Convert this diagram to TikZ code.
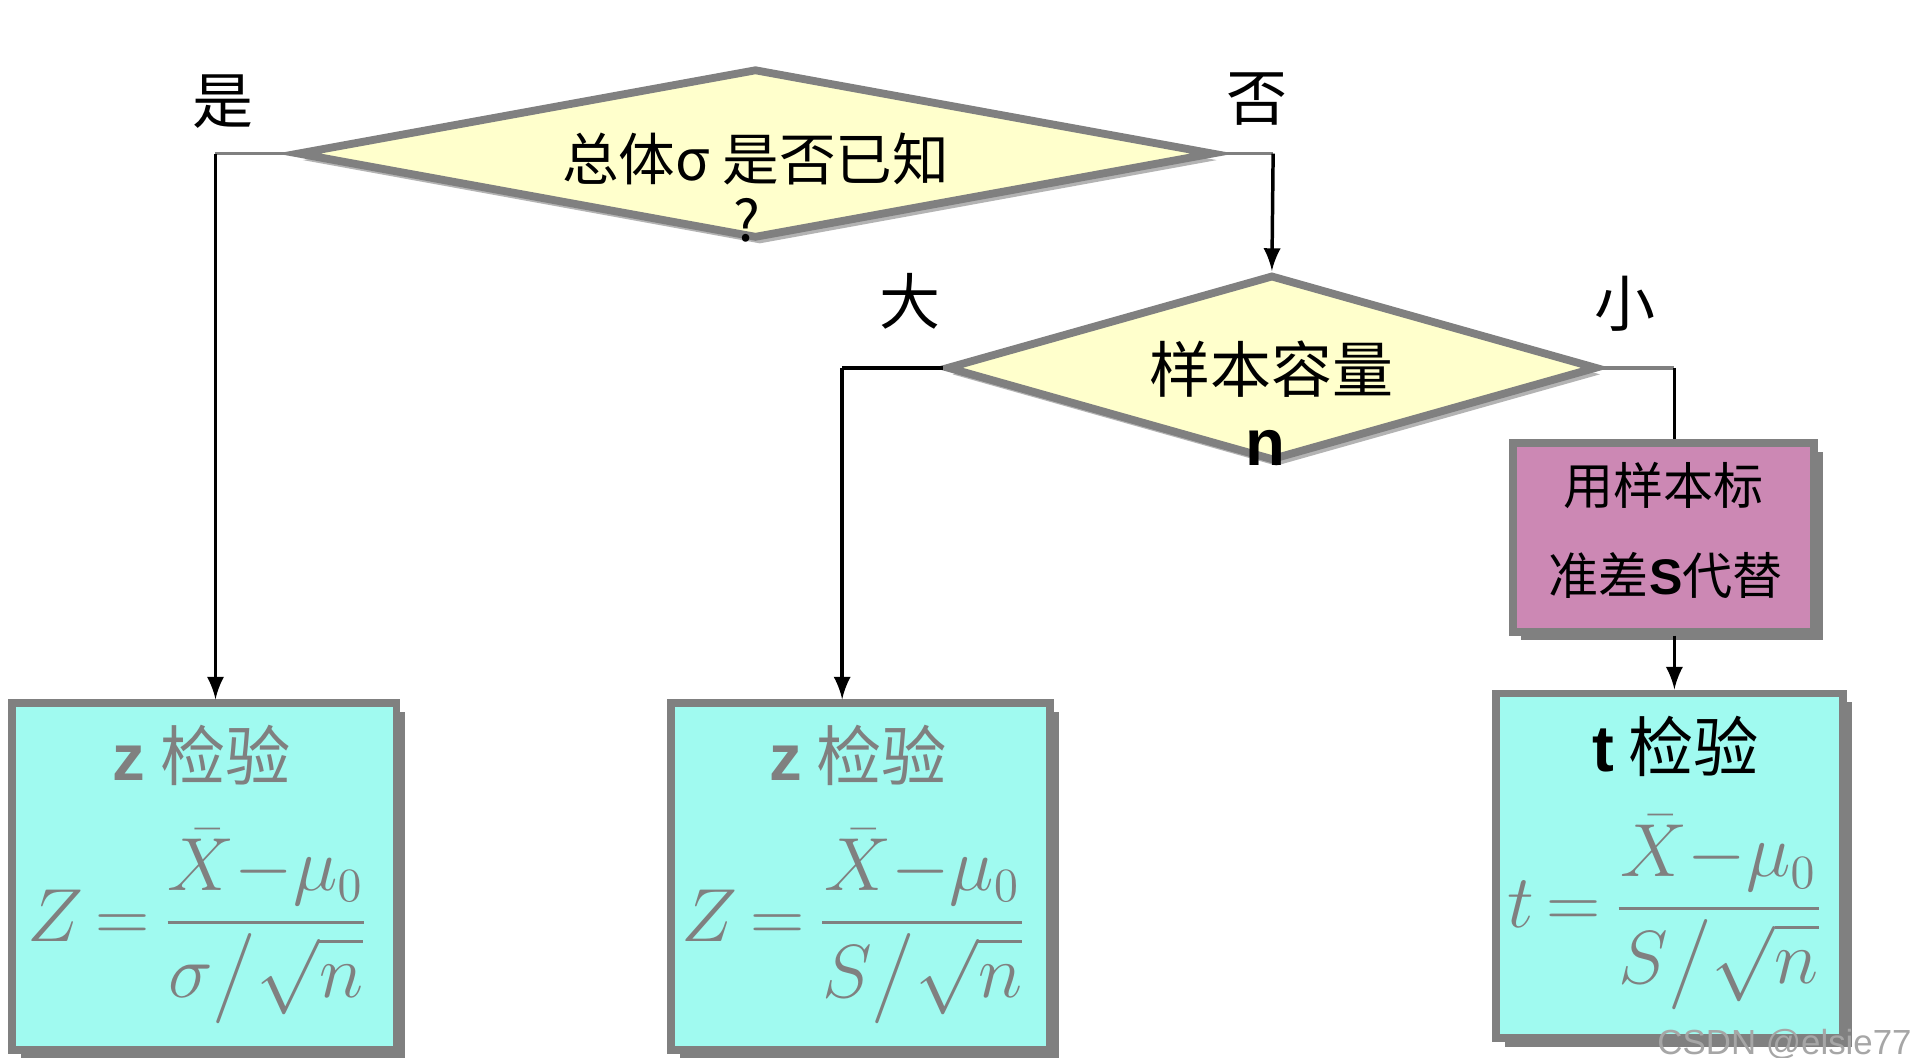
\documentclass[tikz,border=0pt]{standalone}
\usepackage{fontspec}
\usepackage{amsmath}
\usetikzlibrary{shapes.geometric,shadows,positioning}
\newfontfamily\cjk{Noto Sans CJK SC}
\newfontfamily\latin{Liberation Sans}
\definecolor{testcyan}{HTML}{A0FAF0}
\definecolor{subpink}{HTML}{CC88B4}
\definecolor{askyellow}{HTML}{FFFFCC}
\definecolor{rim}{HTML}{808080}
\tikzset{
  ask/.style={diamond, draw=rim, line width=1.8pt, fill=askyellow, inner sep=0pt,
    drop shadow={shadow xshift=1pt, shadow yshift=-1.5pt, fill=rim!60, opacity=1}},
  testbox/.style={rectangle, draw=rim, line width=1.8pt, fill=testcyan, inner sep=0pt,
    drop shadow={shadow xshift=2pt, shadow yshift=-2pt, fill=rim, opacity=1}},
  subbox/.style={testbox, fill=subpink},
  flow/.style={>=latex, thick, black},
  stub/.style={thick, rim},
  answer/.style={font=\cjk\fontsize{14}{16}\selectfont},
  title/.style={font=\cjk\fontsize{15}{18}\selectfont},
  formula/.style={text=rim, font=\fontsize{16}{19}\selectfont}
}
\begin{document}
\begin{tikzpicture}[x=0.01cm, y=-0.01cm]
\fill[white] (0,0) rectangle (1560,854.3);
\useasboundingbox (0,0) rectangle (1560,854.3);
% decisions
\node[ask, minimum width=7.4cm, minimum height=1.37cm] (known) at (610,124) {};
\node[font=\cjk\fontsize{13}{16}\selectfont] (knowntext) at (610,128) {总体σ 是否已知};
\node[font=\cjk\fontsize{13}{16}\selectfont] (knownq) at (603,178) {?};
\node[ask, minimum width=5.25cm, minimum height=1.5cm] (size) at (1027,297) {};
\node[font=\cjk\fontsize{14}{16}\selectfont] (sizetext) at (1027,298) {样本容量};
\node[font=\latin\bfseries\fontsize{15}{18}\selectfont] (sizen) at (1022,362) {n};
% boxes
\node[subbox, minimum width=2.43cm, minimum height=1.52cm] (swap) at (1343,434) {};
\node[font=\cjk\fontsize{11.5}{14}\selectfont] (swapa) at (1343,392) {用样本标};
\node[font=\cjk\fontsize{11.5}{14}\selectfont] (swapb) at (1345,465) {准差{\latin\bfseries S}代替};
\node[testbox, minimum width=3.1cm, minimum height=2.8cm] (zone) at (165,708) {};
\node[title, text=rim] (zonet) at (163,610) {{\latin\bfseries z} 检验};
\node[formula] (zonef) at (160,748) {$Z\,{=}\,\dfrac{\bar{X}{-}\mu_0}{\sigma\big/\sqrt{n}}$};
\node[testbox, minimum width=3.06cm, minimum height=2.8cm] (ztwo) at (695,708) {};
\node[title, text=rim] (ztwot) at (693,610) {{\latin\bfseries z} 检验};
\node[formula] (ztwof) at (690,748) {$Z\,{=}\,\dfrac{\bar{X}{-}\mu_0}{S\big/\sqrt{n}}$};
\node[testbox, minimum width=2.8cm, minimum height=2.78cm] (tt) at (1348,699) {};
\node[title] (ttt) at (1353,603) {{\latin\bfseries t} 检验};
\node[formula] (ttf) at (1345,737) {$t\,{=}\,\dfrac{\bar{X}{-}\mu_0}{S\big/\sqrt{n}}$};
% answers
\node[answer] (yes) at (180,82) {是};
\node[answer] (no) at (1015,80) {否};
\node[answer] (big) at (735,243) {大};
\node[answer] (small) at (1312,245) {小};
% connectors
\coordinate (yesturn) at (174,124);
\coordinate (noturn) at (1028,124);
\coordinate (bigturn) at (680,297);
\coordinate (smallturn) at (1352,297);
\draw[stub] (known.west) -- (yesturn);
\draw[flow, ->] (yesturn) -- (yesturn |- zone.north);
\draw[stub] (known.east) -- (noturn);
\draw[flow, ->] (noturn) -- (size.north);
\draw[flow] (size.west) -- (bigturn);
\draw[flow, ->] (bigturn) -- (bigturn |- ztwo.north);
\draw[stub] (size.east) -- (smallturn);
\draw[flow] (smallturn) -- (smallturn |- swap.north);
\draw[flow, ->] (smallturn |- swap.south) -- (smallturn |- tt.north);
\node[font=\latin\fontsize{8}{9}\selectfont, text=gray!70, anchor=east] (mark) at (1556,843) {CSDN @elsie77};
\end{tikzpicture}
\end{document}
